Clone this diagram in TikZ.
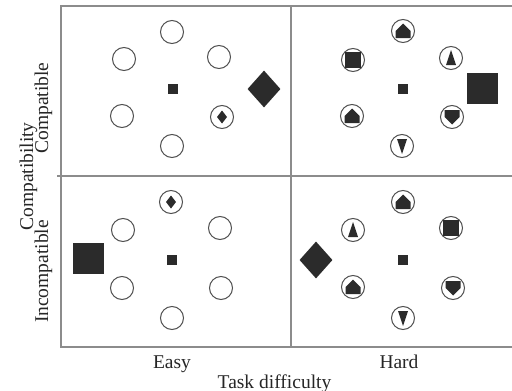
\documentclass[tikz,border=0pt]{standalone}
\usepackage{fontspec}
\setmainfont{Liberation Serif}
\usetikzlibrary{shapes.geometric}
\definecolor{ink}{HTML}{2B2B2B}
\definecolor{framec}{HTML}{8C8C8C}
\definecolor{ringc}{HTML}{505050}
\tikzset{
  frameline/.style={draw=framec, line width=1.6pt},
  ring/.style={circle, draw=ringc, line width=1pt, minimum size=23pt, inner sep=0pt},
  centersq/.style={rectangle, fill=ink, minimum size=10pt, inner sep=0pt},
  bigsq/.style={rectangle, fill=ink, minimum size=31pt, inner sep=0pt},
  bigdia/.style={diamond, fill=ink, minimum width=33pt, minimum height=37pt, inner sep=0pt},
  lbl/.style={font=\fontsize{19.5}{22}\selectfont, text=black!85, inner sep=0pt},
  inhouseup/.pic={\fill[ink] (-7.5,7) -- (-7.5,0) -- (0,-7.5) -- (7.5,0) -- (7.5,7) -- cycle;},
  inhousedown/.pic={\fill[ink] (-7.5,-7) -- (-7.5,0) -- (0,7.5) -- (7.5,0) -- (7.5,-7) -- cycle;},
  intriup/.pic={\fill[ink] (-5,7) -- (0,-8) -- (5,7) -- cycle;},
  intridown/.pic={\fill[ink] (-5,-7) -- (0,8) -- (5,-7) -- cycle;},
  insq/.pic={\fill[ink] (-8,-8) rectangle (8,8);},
  india/.pic={\fill[ink] (-5,0) -- (0,-6.5) -- (5,0) -- (0,6.5) -- cycle;},
}
\begin{document}
\begin{tikzpicture}[x=1pt, y=-1pt]
\useasboundingbox (0,0) rectangle (512,391);
% frame
\coordinate (ftr) at (512,6);
\coordinate (ftl) at (61,6);
\coordinate (fbl) at (61,347);
\coordinate (fbr) at (512,347);
\coordinate (vt) at (291,6);
\coordinate (vb) at (291,347);
\coordinate (hl) at (57,176);
\coordinate (hr) at (512,176);
\draw[frameline] (ftr) -- (ftl) -- (fbl) -- (fbr);
\draw[frameline] (vt) -- (vb);
\draw[frameline] (hl) -- (hr);

% top-left quadrant
\node[ring] (a1) at (172,32) {};
\node[ring] (a2) at (124,59) {};
\node[ring] (a3) at (219,57) {};
\node[ring] (a4) at (122,116) {};
\node[ring] (a5) at (222,117) {};
\node[ring] (a6) at (172,146) {};
\pic at (a5) {india};
\node[centersq] (ac) at (173,89) {};
\node[bigdia] (ab) at (264,89) {};

% top-right quadrant
\node[ring] (b1) at (403,31) {};
\node[ring] (b2) at (353,60) {};
\node[ring] (b3) at (451,58) {};
\node[ring] (b4) at (352,116) {};
\node[ring] (b5) at (452,117) {};
\node[ring] (b6) at (402,146) {};
\pic at (b1) {inhouseup};
\pic at (b2) {insq};
\pic at (b3) {intriup};
\pic at (b4) {inhouseup};
\pic at (b5) {inhousedown};
\pic at (b6) {intridown};
\node[centersq] (bc) at (403,89) {};
\node[bigsq] (bb) at (482,88) {};

% bottom-left quadrant
\node[ring] (c1) at (171,202) {};
\node[ring] (c2) at (123,230) {};
\node[ring] (c3) at (220,228) {};
\node[ring] (c4) at (122,288) {};
\node[ring] (c5) at (221,288) {};
\node[ring] (c6) at (172,318) {};
\pic at (c1) {india};
\node[centersq] (cc) at (172,260) {};
\node[bigsq] (cb) at (88,258) {};

% bottom-right quadrant
\node[ring] (d1) at (403,202) {};
\node[ring] (d2) at (353,230) {};
\node[ring] (d3) at (451,228) {};
\node[ring] (d4) at (353,287) {};
\node[ring] (d5) at (453,288) {};
\node[ring] (d6) at (403,318) {};
\pic at (d1) {inhouseup};
\pic at (d2) {intriup};
\pic at (d3) {insq};
\pic at (d4) {inhouseup};
\pic at (d5) {inhousedown};
\pic at (d6) {intridown};
\node[centersq] (dc) at (403,260) {};
\node[bigdia] (db) at (316,260) {};

% labels
\node[lbl, anchor=base] (easy) at (172,368) {Easy};
\node[lbl, anchor=base] (hard) at (399,368) {Hard};
\node[lbl, anchor=base] (task) at (274.5,388) {Task difficulty};
\node[lbl, anchor=base, rotate=90] (comp) at (48,108) {Compatible};
\node[lbl, anchor=base, rotate=90] (incomp) at (48,271.5) {Incompatible};
\node[lbl, anchor=base, rotate=90] (compy) at (33,176.5) {Compatibility};
\end{tikzpicture}
\end{document}
